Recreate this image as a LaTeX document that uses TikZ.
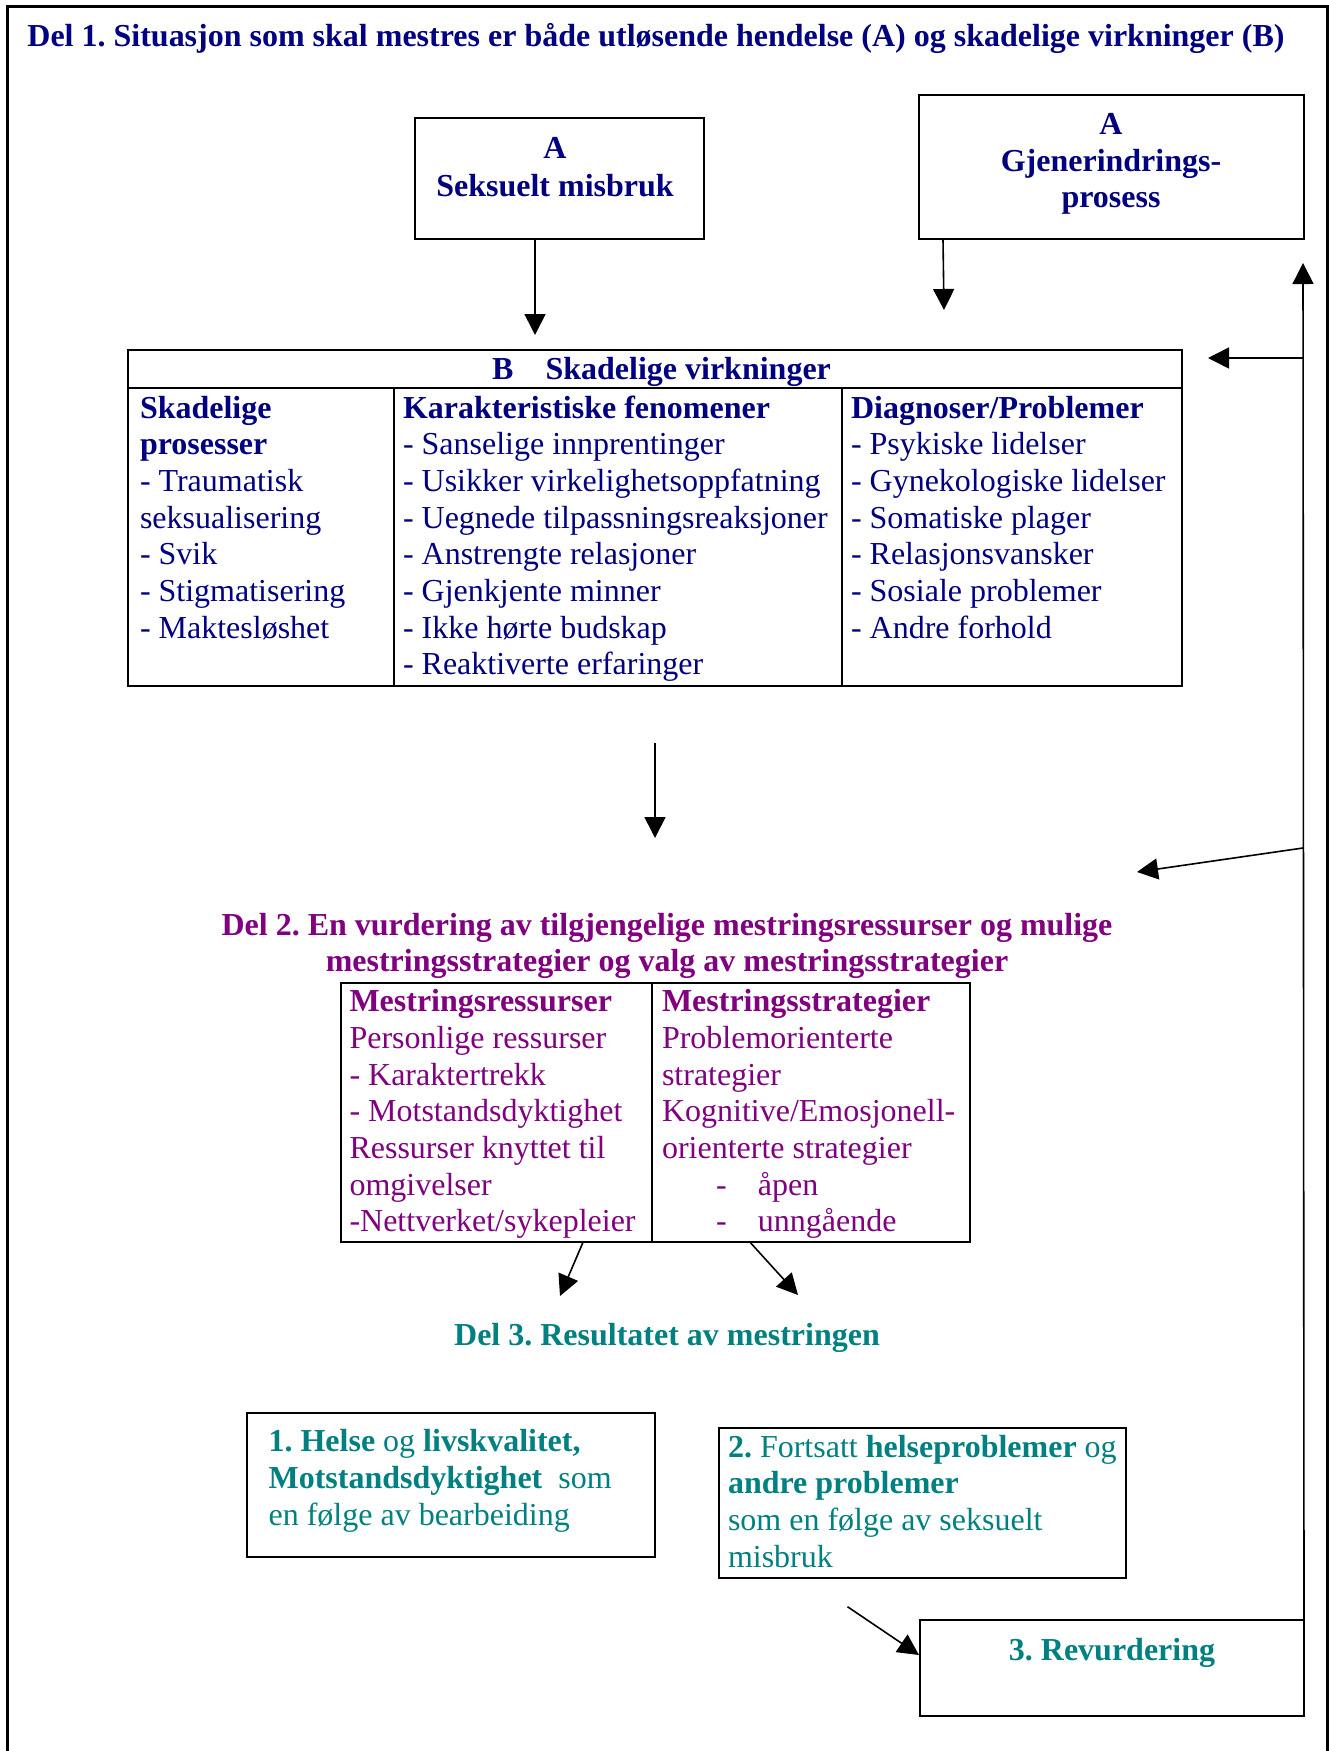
\documentclass[tikz,border=0pt]{standalone}
\usepackage{fontspec}
\setmainfont{Liberation Serif}
\usetikzlibrary{arrows.meta}
\definecolor{navy}{HTML}{000080}
\definecolor{purp}{HTML}{800080}
\definecolor{tealc}{HTML}{008080}
\frenchspacing
\tikzset{
  box/.style={draw, line width=2pt, inner sep=0pt, rectangle},
  txt/.style={inner sep=0pt, outer sep=0pt, align=left, anchor=north west, font=\fontsize{32}{36.7}\selectfont},
  ctxt/.style={inner sep=0pt, outer sep=0pt, align=center, anchor=north, font=\fontsize{32}{36.7}\selectfont},
  btxt/.style={inner sep=0pt, outer sep=0pt, anchor=base, font=\fontsize{32}{36.7}\selectfont\bfseries},
  arr/.style={line width=1.6pt, -{Triangle[length=21pt,width=21pt]}},
  rule/.style={line width=2pt},
}
\begin{document}
\begin{tikzpicture}[x=1pt,y=-1pt]
\useasboundingbox (0,0) rectangle (1329,1751);
% outer frame (open at the bottom)
\draw[line width=3pt] (7,1760) -- (7,6.5) -- (1327,6.5) -- (1327,1760);

% title
\node[btxt, text=navy] (t1) at (656,46.7) {Del 1. Situasjon som skal mestres er både utløsende hendelse (A) og skadelige virkninger (B)};

% A boxes
\node[box, minimum width=289pt, minimum height=121pt] (a1) at (559.5,178.5) {};
\node[ctxt, text=navy, font=\fontsize{32}{38}\selectfont\bfseries] (a1t) at (555,132.3) {\strut A\\Seksuelt misbruk};
\node[box, minimum width=385pt, minimum height=144pt] (a2) at (1111.5,167) {};
\node[ctxt, text=navy, font=\fontsize{32}{36.5}\selectfont\bfseries] (a2t) at (1111,109.3) {\strut A\\Gjenerindrings-\\prosess};

\coordinate (tip1) at (535,335);
\coordinate (tip2) at (944,310);
\draw[arr] ([xshift=-24.5pt]a1.south) -- (tip1);
\draw[arr] ([xshift=25pt]a2.south west) -- (tip2);

% B table
\node[box, minimum width=1054pt, minimum height=336pt] (btab) at (655,518) {};
\draw[rule] (128,388) -- (1182,388);
\draw[rule] (394,388) -- (394,686);
\draw[rule] (842,388) -- (842,686);
\node[inner sep=0pt, anchor=base west, text=navy, font=\fontsize{32}{36.7}\selectfont\bfseries] (bh) at (492,379) {B\hspace{32pt}Skadelige virkninger};
\node[txt, text=navy] (bc1) at (140,392.3) {\strut\textbf{Skadelige}\\\textbf{prosesser}\\- Traumatisk\\seksualisering\\- Svik\\- Stigmatisering\\- Maktesløshet};
\node[txt, text=navy] (bc2) at (403,392.3) {\strut\textbf{Karakteristiske fenomener}\\- Sanselige innprentinger\\- Usikker virkelighetsoppfatning\\- Uegnede tilpassningsreaksjoner\\- Anstrengte relasjoner\\- Gjenkjente minner\\- Ikke hørte budskap\\- Reaktiverte erfaringer};
\node[txt, text=navy] (bc3) at (851,392.3) {\strut\textbf{Diagnoser/Problemer}\\- Psykiske lidelser\\- Gynekologiske lidelser\\- Somatiske plager\\- Relasjonsvansker\\- Sosiale problemer\\- Andre forhold};

% middle arrow
\coordinate (m1) at (655,743);
\coordinate (m2) at (655,838);
\draw[arr] (m1) -- (m2);

% Del 2
\node[ctxt, text=purp, font=\fontsize{32}{36}\selectfont\bfseries] (t2) at (667,910.5) {\strut Del 2. En vurdering av tilgjengelige mestringsressurser og mulige\\mestringsstrategier og valg av mestringsstrategier};
\node[box, minimum width=629pt, minimum height=259pt] (dtab) at (655.5,1112.5) {};
\draw[rule] (652,983) -- (652,1242);
\node[txt, text=purp] (dc1) at (349.5,986) {\strut\textbf{Mestringsressurser}\\Personlige ressurser\\- Karaktertrekk\\- Motstandsdyktighet\\Ressurser knyttet til\\omgivelser\\-Nettverket/sykepleier};
\node[txt, text=purp] (dc2) at (662,986) {\strut\textbf{Mestringsstrategier}\\Problemorienterte\\strategier\\Kognitive/Emosjonell-\\orienterte strategier\\\hspace*{54pt}\makebox[42pt][l]{-}åpen\\\hspace*{54pt}\makebox[42pt][l]{-}unngående};

\coordinate (d1) at (560,1296);
\coordinate (d2) at (798,1295);
\draw[arr] ([xshift=-72.8pt]dtab.south) -- (d1);
\draw[arr] ([xshift=95.2pt]dtab.south) -- (d2);

% Del 3
\node[btxt, text=tealc] (t3) at (667,1345) {Del 3. Resultatet av mestringen};

\node[box, minimum width=408pt, minimum height=144pt] (r1) at (451,1485) {};
\node[txt, text=tealc] (r1t) at (268.6,1426) {\strut\textbf{1. Helse} og \textbf{livskvalitet,}\\\textbf{Motstandsdyktighet}\ \ som\\en følge av bearbeiding};

\node[box, minimum width=407pt, minimum height=150pt] (r2) at (922.5,1503) {};
\node[txt, text=tealc] (r2t) at (728,1431.3) {\strut\textbf{2.} Fortsatt \textbf{helseproblemer} og\\\textbf{andre problemer}\\som en følge av seksuelt\\misbruk};

\node[box, minimum width=384pt, minimum height=96pt] (r3) at (1112,1668) {};
\node[btxt, text=tealc] (r3t) at (1112,1660) {3. Revurdering};

\coordinate (s3) at (847.5,1606.7);
\draw[arr] (s3) -- ([yshift=13pt]r3.west);

% feedback line
\coordinate (top) at (1303,263);
\coordinate (j1) at (1303,358);
\coordinate (j1e) at (1208,358);
\coordinate (j2) at (1303,848);
\coordinate (j2e) at (1137,872);
\draw[arr] ([xshift=-1pt]r3.north east) -- (top);
\draw[arr] (j1) -- (j1e);
\draw[arr] (j2) -- (j2e);
\end{tikzpicture}
\end{document}
